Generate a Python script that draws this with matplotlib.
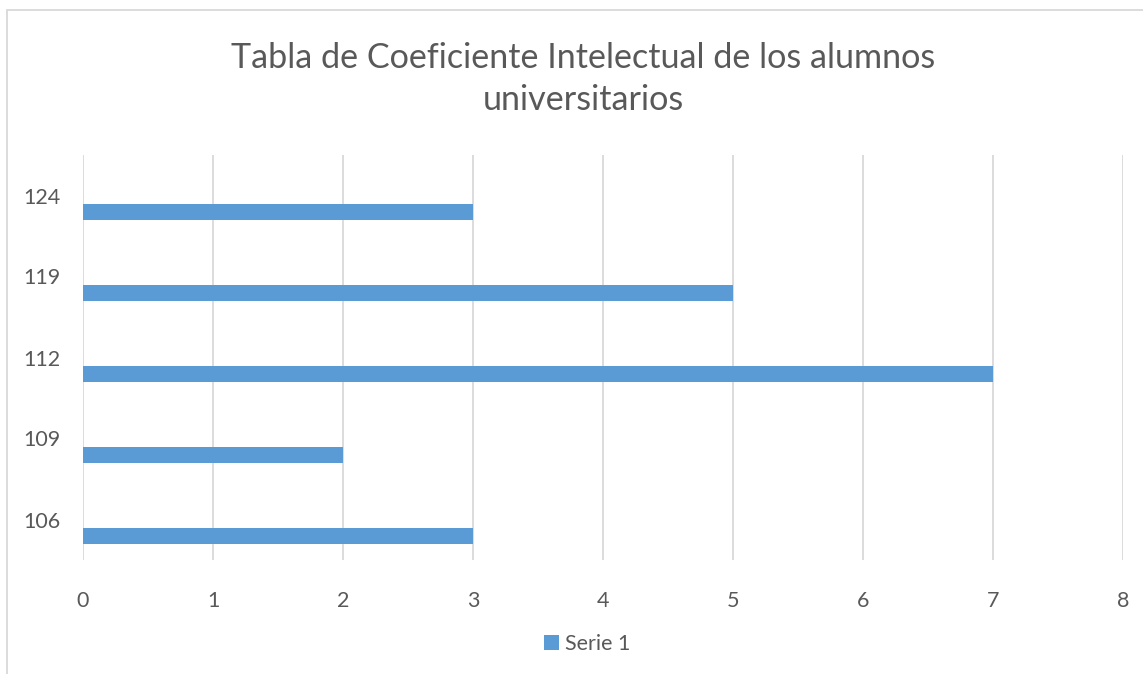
import numpy as np
import matplotlib.pyplot as plt
from matplotlib.patches import Rectangle

# datos del grafico
categorias = ["106", "109", "112", "119", "124"]
serie_1 = [3, 2, 7, 5, 3]
ticks_x = [0, 1, 2, 3, 4, 5, 6, 7, 8]

azul = "#5B9BD5"
gris_texto = "#595959"
gris_linea = "#D9D9D9"

plt.rcParams['font.family'] = ['Lato', 'DejaVu Sans']

fig = plt.figure(figsize=(11.43, 6.74), dpi=100)
W, H = 1143, 674

# borde del area del grafico
fig.patches.append(Rectangle((7 / W, -0.1), 1.2, 1 - 10 / H + 0.1,
                             transform=fig.transFigure, fill=False,
                             edgecolor=gris_linea, linewidth=1.3))

ax = fig.add_axes([83 / W, 1 - 560 / H, (1123 - 83) / W, (560 - 155) / H])

y = np.arange(len(categorias))
ax.barh(y - 0.2, serie_1, height=0.2, color=azul, label="Serie 1", zorder=3)

ax.set_xlim(0, 8)
ax.set_ylim(-0.5, len(categorias) - 0.5)
ax.set_xticks(ticks_x)
ax.set_yticks(y)
ax.set_yticklabels(categorias)

ax.grid(axis='x', color=gris_linea, linewidth=1.3, zorder=0)
for s in ax.spines.values():
    s.set_visible(False)
ax.tick_params(axis='both', length=0, labelsize=15.5, labelcolor=gris_texto)
ax.tick_params(axis='x', pad=22)
ax.tick_params(axis='y', pad=16)

fig.text(583 / W, 1 - 68 / H, "Tabla de Coeficiente Intelectual de los alumnos",
         ha='center', va='baseline', fontsize=24.6, color=gris_texto)
fig.text(583 / W, 1 - 110 / H, "universitarios",
         ha='center', va='baseline', fontsize=24.6, color=gris_texto)

fig.legend(loc='center', bbox_to_anchor=(587 / W, 1 - 644 / H), frameon=False,
           fontsize=15.5, labelcolor=gris_texto, handlelength=0.7, handleheight=0.7,
           handletextpad=0.25)

fig.savefig("out.png", dpi=100)
